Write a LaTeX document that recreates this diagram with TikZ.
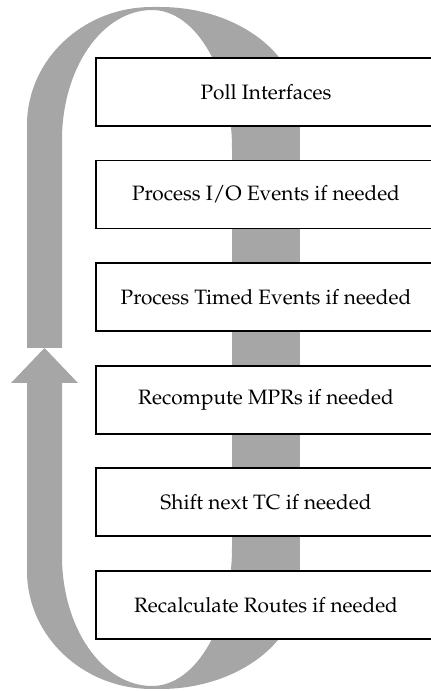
\documentclass[tikz,border=0pt]{standalone}
\usepackage[T1]{fontenc}
\usepackage{mathpazo}
\usetikzlibrary{backgrounds}
\definecolor{loopgray}{RGB}{166,166,166}
\tikzset{
  stage/.style={draw, line width=0.9pt, fill=white, minimum width=170pt,
    minimum height=34pt, inner sep=0pt, font=\fontsize{10.4}{12}\selectfont},
  loopband/.style={fill=loopgray, draw=none},
}
\begin{document}
\begin{tikzpicture}[x=0.5pt, y=0.5pt]
  \useasboundingbox (0,0) rectangle (430,691);
  \node[stage] (poll)    at (266,599)   {Poll Interfaces};
  \node[stage] (ioev)    at (266,496.4) {Process I/O Events if needed};
  \node[stage] (timed)   at (266,393.8) {Process Timed Events if needed};
  \node[stage] (mprs)    at (266,291.2) {Recompute MPRs if needed};
  \node[stage] (shifttc) at (266,188.6) {Shift next TC if needed};
  \node[stage] (routes)  at (266,86)    {Recalculate Routes if needed};

  \begin{scope}[on background layer]
    \draw[loopgray, line width=34pt] (poll.center) -- (routes.center);
    % upper turn, back into the first stage
    \fill[loopband] (27,566) arc[start angle=180, end angle=90, x radius=125, y radius=118]
      -- (160,684) arc[start angle=90, end angle=0, x radius=140, y radius=106]
      -- (232,578) -- (232,542)
      arc[start angle=0, end angle=90, x radius=80, y radius=139]
      arc[start angle=90, end angle=180, x radius=90, y radius=130]
      -- (62,343) -- (27,343) -- cycle;
    % lower turn, out of the last stage, up to the arrow head
    \fill[loopband] (27,120) arc[start angle=180, end angle=270, x radius=125, y radius=118]
      -- (160,2) arc[start angle=270, end angle=360, x radius=140, y radius=106]
      -- (232,108) -- (232,144)
      arc[start angle=360, end angle=270, x radius=80, y radius=139]
      arc[start angle=270, end angle=180, x radius=90, y radius=130]
      -- (62,308) -- (78,308) -- (44.5,343) -- (11,308) -- (27,308) -- cycle;
  \end{scope}
\end{tikzpicture}
\end{document}
